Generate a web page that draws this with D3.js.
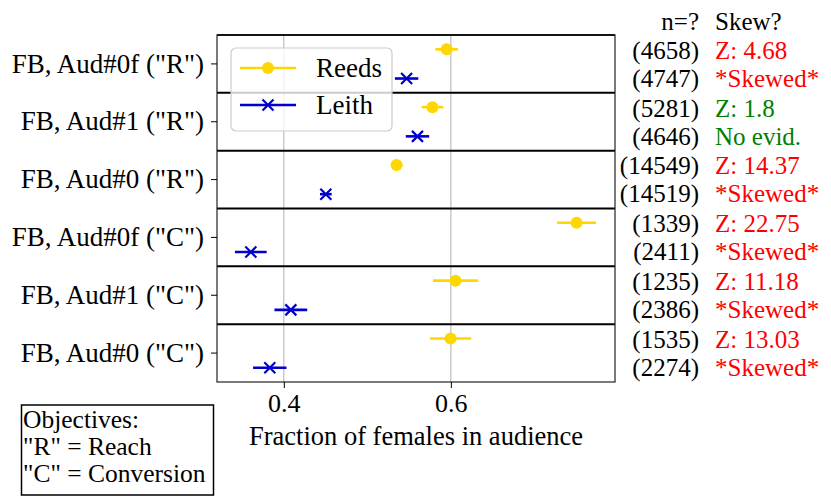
<!DOCTYPE html>
<html>
<head>
<meta charset="utf-8">
<script src="https://cdn.jsdelivr.net/npm/d3@7"></script>
</head>
<body style="margin:0; background:#fff">
<div id="chart"></div>
<script>
// rows, top to bottom
var categories = ['FB, Aud#0f ("R")', 'FB, Aud#1 ("R")', 'FB, Aud#0 ("R")',
                  'FB, Aud#0f ("C")', 'FB, Aud#1 ("C")', 'FB, Aud#0 ("C")'];
var reedsMean = [0.595, 0.578, 0.535, 0.7505, 0.6056, 0.5996];
var reedsErr  = [0.0136, 0.013, 0.007, 0.0233, 0.027, 0.0248];
var leithMean = [0.547, 0.560, 0.4503, 0.3605, 0.4084, 0.3832];
var leithErr  = [0.014, 0.014, 0.007, 0.019, 0.0196, 0.020];
var reedsN = [4658, 5281, 14549, 1339, 1235, 1535];
var leithN = [4747, 4646, 14519, 2411, 2386, 2274];
var zScores = ["4.68", "1.8", "14.37", "22.75", "11.18", "13.03"];
var verdicts = ["*Skewed*", "No evid.", "*Skewed*", "*Skewed*", "*Skewed*", "*Skewed*"];
var xTicks = [0.4, 0.6];
var seriesNames = ["Reeds", "Leith"];
var objectiveLines = ["Objectives:", '"R" = Reach', '"C" = Conversion'];

var W = 831, H = 501;
var plot = { left: 217, right: 615, top: 35, bottom: 382 };
var gold = "#ffd700", blue = "#0000cd";
var FONT = "'Liberation Serif'";

var svg = d3.select("#chart").append("svg")
  .attr("width", W).attr("height", H)
  .style("font-family", FONT);

function label(sel, fs) {
  return sel.style("font-family", FONT).attr("font-size", fs || 25);
}

var x = d3.scaleLinear().domain([0.32, 0.7965]).range([plot.left, plot.right]);
var y = d3.scaleBand().domain(categories).range([plot.top, plot.bottom]).padding(0);
var sub = d3.scalePoint().domain(seriesNames).range([-14.6, 14.6]);

// grid
svg.selectAll(".grid").data(xTicks).enter().append("line")
  .attr("x1", function(d) { return x(d); }).attr("x2", function(d) { return x(d); })
  .attr("y1", plot.top).attr("y2", plot.bottom)
  .attr("stroke", "#b0b0b0").attr("stroke-width", 1);

// row separators
svg.selectAll(".sep").data(categories).enter().append("line")
  .attr("x1", plot.left).attr("x2", plot.right)
  .attr("y1", function(d) { return y(d); }).attr("y2", function(d) { return y(d); })
  .attr("stroke", "#000").attr("stroke-width", 2);

// frame
svg.append("rect")
  .attr("x", plot.left).attr("y", plot.top)
  .attr("width", plot.right - plot.left).attr("height", plot.bottom - plot.top)
  .attr("fill", "none").attr("stroke", "#222").attr("stroke-width", 1.2);

// x axis
var xAxis = svg.append("g")
  .attr("transform", "translate(0," + plot.bottom + ")")
  .call(d3.axisBottom(x).tickValues(xTicks).tickFormat(d3.format(".1f")).tickSize(6).tickPadding(6));
xAxis.select(".domain").remove();
label(xAxis.selectAll("text"), 26).attr("fill", "#000");
xAxis.selectAll("line").attr("stroke", "#000");

label(svg.append("text"), 26.5)
  .attr("x", 416).attr("y", 445)
  .attr("text-anchor", "middle")
  .text("Fraction of females in audience");

// y axis
var yAxis = svg.append("g")
  .attr("transform", "translate(" + plot.left + ",0)")
  .call(d3.axisLeft(y).tickSize(6).tickPadding(7));
yAxis.select(".domain").remove();
label(yAxis.selectAll("text"), 27).attr("fill", "#000");
yAxis.selectAll("line").attr("stroke", "#000");

// series
var rows = categories.map(function(c, i) {
  return [
    { cat: c, s: "Reeds", m: reedsMean[i], e: reedsErr[i] },
    { cat: c, s: "Leith", m: leithMean[i], e: leithErr[i] }
  ];
});
var pts = d3.merge(rows);
function py(d) { return y(d.cat) + y.bandwidth() / 2 + sub(d.s); }

svg.selectAll(".err").data(pts).enter().append("line")
  .attr("x1", function(d) { return x(d.m - d.e); })
  .attr("x2", function(d) { return x(d.m + d.e); })
  .attr("y1", py).attr("y2", py)
  .attr("stroke", function(d) { return d.s === "Reeds" ? gold : blue; })
  .attr("stroke-width", 2.6);

function drawMarker(g, s, cx, cy) {
  if (s === "Reeds") {
    g.append("circle").attr("cx", cx).attr("cy", cy).attr("r", 6).attr("fill", gold);
  } else {
    var k = 5.5;
    g.append("path")
      .attr("d", "M" + (cx - k) + "," + (cy - k) + "L" + (cx + k) + "," + (cy + k) +
                 "M" + (cx - k) + "," + (cy + k) + "L" + (cx + k) + "," + (cy - k))
      .attr("stroke", blue).attr("stroke-width", 2.2).attr("fill", "none");
  }
}
var markers = svg.append("g");
pts.forEach(function(d) { drawMarker(markers, d.s, x(d.m), py(d)); });

// legend
var lg = svg.append("g");
lg.append("rect")
  .attr("x", 231).attr("y", 48).attr("width", 161).attr("height", 83).attr("rx", 5)
  .attr("fill", "#fff").attr("fill-opacity", 0.8)
  .attr("stroke", "#cccccc").attr("stroke-width", 1.2);
seriesNames.forEach(function(s, i) {
  var ly = 68 + i * 37;
  lg.append("line").attr("x1", 240).attr("x2", 296).attr("y1", ly).attr("y2", ly)
    .attr("stroke", s === "Reeds" ? gold : blue).attr("stroke-width", 2.6);
  drawMarker(lg, s, 268, ly);
  label(lg.append("text"), 27).attr("x", 316).attr("y", ly).attr("dy", "0.35em").text(s);
});

// right-side annotations
var colN = 699, colS = 715;
label(svg.append("text")).attr("x", colN).attr("y", 30).attr("text-anchor", "end").text("n=?");
label(svg.append("text")).attr("x", colS).attr("y", 30).text("Skew?");

categories.forEach(function(c, i) {
  var cy = y(c) + y.bandwidth() / 2;
  var skewed = verdicts[i] === "*Skewed*";
  var col = skewed ? "#ff0000" : "#008000";
  [reedsN[i], leithN[i]].forEach(function(n, j) {
    label(svg.append("text")).attr("x", colN).attr("y", cy + (j ? 14 : -14)).attr("dy", "0.35em")
      .attr("text-anchor", "end").text("(" + n + ")");
  });
  label(svg.append("text")).attr("x", colS).attr("y", cy - 14).attr("dy", "0.35em")
    .attr("fill", col).text("Z: " + zScores[i]);
  label(svg.append("text")).attr("x", colS).attr("y", cy + 14).attr("dy", "0.35em")
    .attr("fill", col).text(verdicts[i]);
});

// objectives box
svg.append("rect").attr("x", 21.5).attr("y", 405).attr("width", 192).attr("height", 90)
  .attr("fill", "none").attr("stroke", "#000").attr("stroke-width", 1.5);
objectiveLines.forEach(function(t, i) {
  label(svg.append("text"), 25.5).attr("x", 23).attr("y", 428 + i * 27).text(t);
});
</script>
</body>
</html>
